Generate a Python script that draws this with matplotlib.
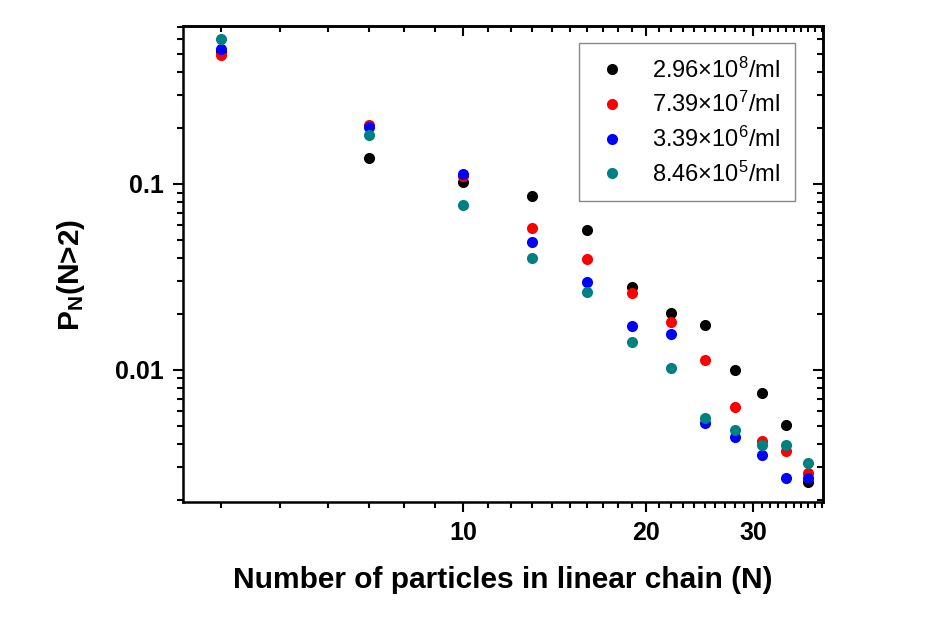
import numpy as np
import matplotlib
matplotlib.use("Agg")
import matplotlib.pyplot as plt
from matplotlib.ticker import FixedLocator, FuncFormatter, LogLocator, NullFormatter

plt.rcParams['font.family'] = ['Liberation Sans', 'DejaVu Sans']
plt.rcParams['mathtext.default'] = 'regular'

# chain length N
N = [4, 7, 10, 13, 16, 19, 22, 25, 28, 31, 34, 37]

# P_N(N>2) for each concentration
p_296e8 = [0.52, 0.138, 0.1026, 0.0862, 0.0568, 0.0278, 0.0202, 0.0174, 0.0100, 0.00754, 0.00508, 0.00249]
p_739e7 = [0.495, 0.207, 0.110, 0.0582, 0.0397, 0.0258, 0.0181, 0.0113, 0.00634, 0.00417, 0.00365, 0.00278]
p_339e6 = [0.533, 0.202, 0.113, 0.049, 0.0296, 0.0172, 0.0156, 0.00521, 0.00438, 0.00351, 0.00264, 0.00264]
p_846e5 = [0.60, 0.183, 0.0772, 0.0402, 0.0264, 0.0141, 0.01026, 0.00553, 0.00477, 0.00397, 0.00397, 0.00318]

labels = [r'2.96$\times$10$^{8}$/ml', r'7.39$\times$10$^{7}$/ml',
          r'3.39$\times$10$^{6}$/ml', r'8.46$\times$10$^{5}$/ml']
colors = ['black', '#ff0000', '#0000ff', '#008080']

xmajor = [10, 20, 30]
xminor = list(range(3, 40))
ymajor = [0.01, 0.1, 1]

fig = plt.figure(figsize=(9.26, 6.24), dpi=100)
ax = fig.add_axes([0.1976, 0.1955, 0.6911, 0.7628])

for y, lab, c in zip([p_296e8, p_739e7, p_339e6, p_846e5], labels, colors):
    ax.plot(N, y, 'o', color=c, markersize=8, markeredgewidth=0, label=lab)

ax.set_xscale('log')
ax.set_yscale('log')
ax.set_xlim(3.46, 39.1)
ax.set_ylim(0.00195, 0.707)

# x ticks
ax.xaxis.set_major_locator(FixedLocator(xmajor))
ax.xaxis.set_major_formatter(FuncFormatter(lambda v, p: '%d' % v))
ax.xaxis.set_minor_locator(FixedLocator(xminor))
ax.xaxis.set_minor_formatter(NullFormatter())
# y ticks
ax.yaxis.set_major_locator(FixedLocator(ymajor))
ax.yaxis.set_major_formatter(FuncFormatter(lambda v, p: {0.01: '0.01', 0.1: '0.1', 1: '1'}.get(round(v, 3), '')))
ax.yaxis.set_minor_locator(LogLocator(base=10, subs=np.arange(2, 10)))
ax.yaxis.set_minor_formatter(NullFormatter())

ax.tick_params(which='both', direction='out', width=1.5, top=False, right=False)
ax.tick_params(which='major', length=7.5, labelsize=18, pad=6)
ax.tick_params(which='minor', length=4)
for lab in ax.get_xticklabels() + ax.get_yticklabels():
    lab.set_fontweight('bold')
for s in ax.spines.values():
    s.set_linewidth(1.8)

# top and right axes, ticks inward
top = ax.secondary_xaxis('top')
top.xaxis.set_major_locator(FixedLocator(xmajor))
top.xaxis.set_minor_locator(FixedLocator(xminor))
top.tick_params(which='both', direction='in', width=1.5, labeltop=False)
top.tick_params(which='major', length=7.5)
top.tick_params(which='minor', length=4)
top.spines['top'].set_linewidth(1.8)

right = ax.secondary_yaxis('right')
right.yaxis.set_major_locator(FixedLocator(ymajor))
right.yaxis.set_minor_locator(LogLocator(base=10, subs=np.arange(2, 10)))
right.tick_params(which='both', direction='in', width=1.5, labelright=False)
right.tick_params(which='major', length=7.5)
right.tick_params(which='minor', length=4)
right.spines['right'].set_linewidth(1.8)

ax.set_xlabel('Number of particles in linear chain (N)', fontsize=21.5, fontweight='bold', labelpad=15)
ax.set_ylabel(r'P$_N$(N>2)', fontsize=21.5, fontweight='bold')
ax.yaxis.set_label_coords(-0.15, 0.477)

leg = ax.legend(loc='upper right', bbox_to_anchor=(0.956, 0.964), borderaxespad=0,
                fontsize=17, frameon=True, fancybox=False, framealpha=1,
                edgecolor='#888888', handletextpad=0.9, labelspacing=0.4,
                borderpad=0.6, handlelength=1.6)
leg.get_frame().set_linewidth(1.0)

fig.savefig('out.png', dpi=100, facecolor='white')
